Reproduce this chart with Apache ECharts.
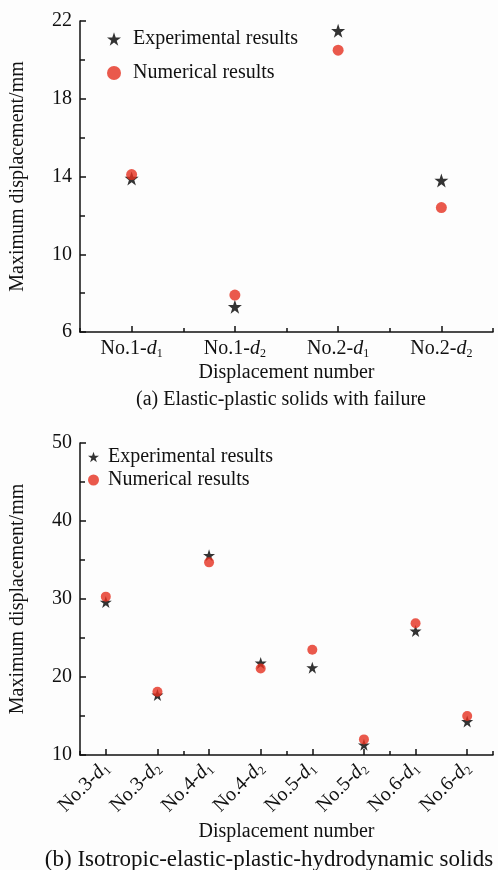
<!DOCTYPE html>
<html>
<head>
<meta charset="utf-8">
<script src="https://cdn.jsdelivr.net/npm/echarts@6/dist/echarts.min.js"></script>
<style>
  html, body { margin: 0; padding: 0; background: #fdfdfd; }
  #main { width: 498px; height: 870px; }
</style>
</head>
<body>
<div id="main"></div>
<script>
// (a) Elastic-plastic solids with failure
var catsA = ['No.1-{i|d}{s|1}', 'No.1-{i|d}{s|2}', 'No.2-{i|d}{s|1}', 'No.2-{i|d}{s|2}']
var expA = [13.9, 7.3, 21.5, 13.8]
var numA = [14.1, 7.9, 20.5, 12.4]

// (b) Isotropic-elastic-plastic-hydrodynamic solids
var catsB = ['No.3-{i|d}{s|1}', 'No.3-{i|d}{s|2}', 'No.4-{i|d}{s|1}', 'No.4-{i|d}{s|2}',
             'No.5-{i|d}{s|1}', 'No.5-{i|d}{s|2}', 'No.6-{i|d}{s|1}', 'No.6-{i|d}{s|2}']
var expB = [29.6, 17.7, 35.6, 21.8, 21.2, 11.3, 25.9, 14.3]
var numB = [30.3, 18.1, 34.7, 21.1, 23.5, 12.0, 26.9, 15.0]

var ticksA = {min: 6, max: 22, interval: 4}
var ticksB = {min: 10, max: 50, interval: 10}

var FONT = '"Liberation Serif", "DejaVu Serif", serif'
var INK = '#111'
var RED = '#e5301f'
var STAR = 'path://M50,0 L61.8,35.1 L98.1,35.1 L68.6,56.8 L79.4,91.2 L50,70 L20.6,91.2 L31.4,56.8 L1.9,35.1 L38.2,35.1 Z'

var rich = {
  i: {fontFamily: FONT, fontStyle: 'italic', fontSize: 20, color: INK},
  s: {fontFamily: FONT, fontSize: 12, color: INK, padding: [11, 0, 0, 0]}
}

function catAxis(idx, cats, rotate, nameGap) {
  return [{
    type: 'category', gridIndex: idx, data: cats, position: 'bottom',
    name: 'Displacement number', nameLocation: 'middle', nameGap: nameGap,
    nameTextStyle: {fontFamily: FONT, fontSize: 20, color: INK},
    axisLine: {show: true, lineStyle: {color: INK, width: 1.5}},
    axisTick: {show: true, inside: true, alignWithLabel: true, length: 6, lineStyle: {color: INK, width: 1.5}},
    axisLabel: {show: true, interval: 0, rotate: rotate, margin: rotate ? 10 : 5, fontFamily: FONT, fontSize: 20, color: INK, rich: rich},
    splitLine: {show: false}
  }, {
    // boundary ticks between the categories
    type: 'category', gridIndex: idx, data: cats, position: 'bottom',
    axisLine: {show: false},
    axisTick: {show: true, inside: true, length: 4, lineStyle: {color: INK, width: 1.5}},
    axisLabel: {show: false},
    splitLine: {show: false}
  }]
}

function valAxis(idx, t) {
  return {
    type: 'value', gridIndex: idx, min: t.min, max: t.max, interval: t.interval,
    name: 'Maximum displacement/mm', nameLocation: 'middle', nameGap: 52,
    nameTextStyle: {fontFamily: FONT, fontSize: 20, color: INK},
    axisLine: {show: true, lineStyle: {color: INK, width: 1.5}},
    axisTick: {show: true, inside: true, length: 6, lineStyle: {color: INK, width: 1.5}},
    minorTick: {show: true, splitNumber: 2, length: 5, lineStyle: {color: INK, width: 1.5}},
    axisLabel: {show: true, fontFamily: FONT, fontSize: 20, color: INK, margin: 8},
    splitLine: {show: false}
  }
}

function legendItems() {
  return [{name: 'Experimental results', icon: STAR, itemStyle: {color: '#000'}},
          {name: 'Numerical results', icon: 'circle', itemStyle: {color: RED}}]
}

var chart = echarts.init(document.getElementById('main'))
var option = {
  backgroundColor: '#fdfdfd',
  animation: false,
  title: [
    {text: '(a) Elastic-plastic solids with failure', left: 276, top: 385, textAlign: 'center',
     textStyle: {fontFamily: FONT, fontSize: 20, fontWeight: 'normal', color: INK}},
    {text: '(b) Isotropic-elastic-plastic-hydrodynamic solids', left: 264, top: 843, textAlign: 'center',
     textStyle: {fontFamily: FONT, fontSize: 23, fontWeight: 'normal', color: INK}}
  ],
  legend: [
    {orient: 'vertical', left: 107, top: 29, padding: 0, itemGap: 14, itemWidth: 14, itemHeight: 14,
     textStyle: {fontFamily: FONT, fontSize: 20, color: INK, padding: [0, 0, 0, 7]},
     data: legendItems()},
    {orient: 'vertical', left: 88, top: 447, padding: 0, itemGap: 3, itemWidth: 11, itemHeight: 11,
     textStyle: {fontFamily: FONT, fontSize: 20, color: INK, padding: [0, 0, 0, 4]},
     data: legendItems()}
  ],
  grid: [
    {left: 77, top: 21, width: 416, height: 311},
    {left: 77, top: 443, width: 416, height: 312}
  ],
  xAxis: catAxis(0, catsA, 0, 31).concat(catAxis(1, catsB, 45, 67)),
  yAxis: [valAxis(0, ticksA), valAxis(1, ticksB)],
  series: [
    {name: 'Experimental results', type: 'scatter', xAxisIndex: 0, yAxisIndex: 0,
     symbol: STAR, symbolSize: 14, itemStyle: {color: '#000'}, data: expA},
    {name: 'Numerical results', type: 'scatter', xAxisIndex: 0, yAxisIndex: 0,
     symbol: 'circle', symbolSize: 11, itemStyle: {color: RED}, data: numA},
    {name: 'Experimental results', type: 'scatter', xAxisIndex: 2, yAxisIndex: 1,
     symbol: STAR, symbolSize: 12, itemStyle: {color: '#000'}, data: expB},
    {name: 'Numerical results', type: 'scatter', xAxisIndex: 2, yAxisIndex: 1,
     symbol: 'circle', symbolSize: 10, itemStyle: {color: RED}, data: numB}
  ]
}
chart.setOption(option)
</script>
</body>
</html>
